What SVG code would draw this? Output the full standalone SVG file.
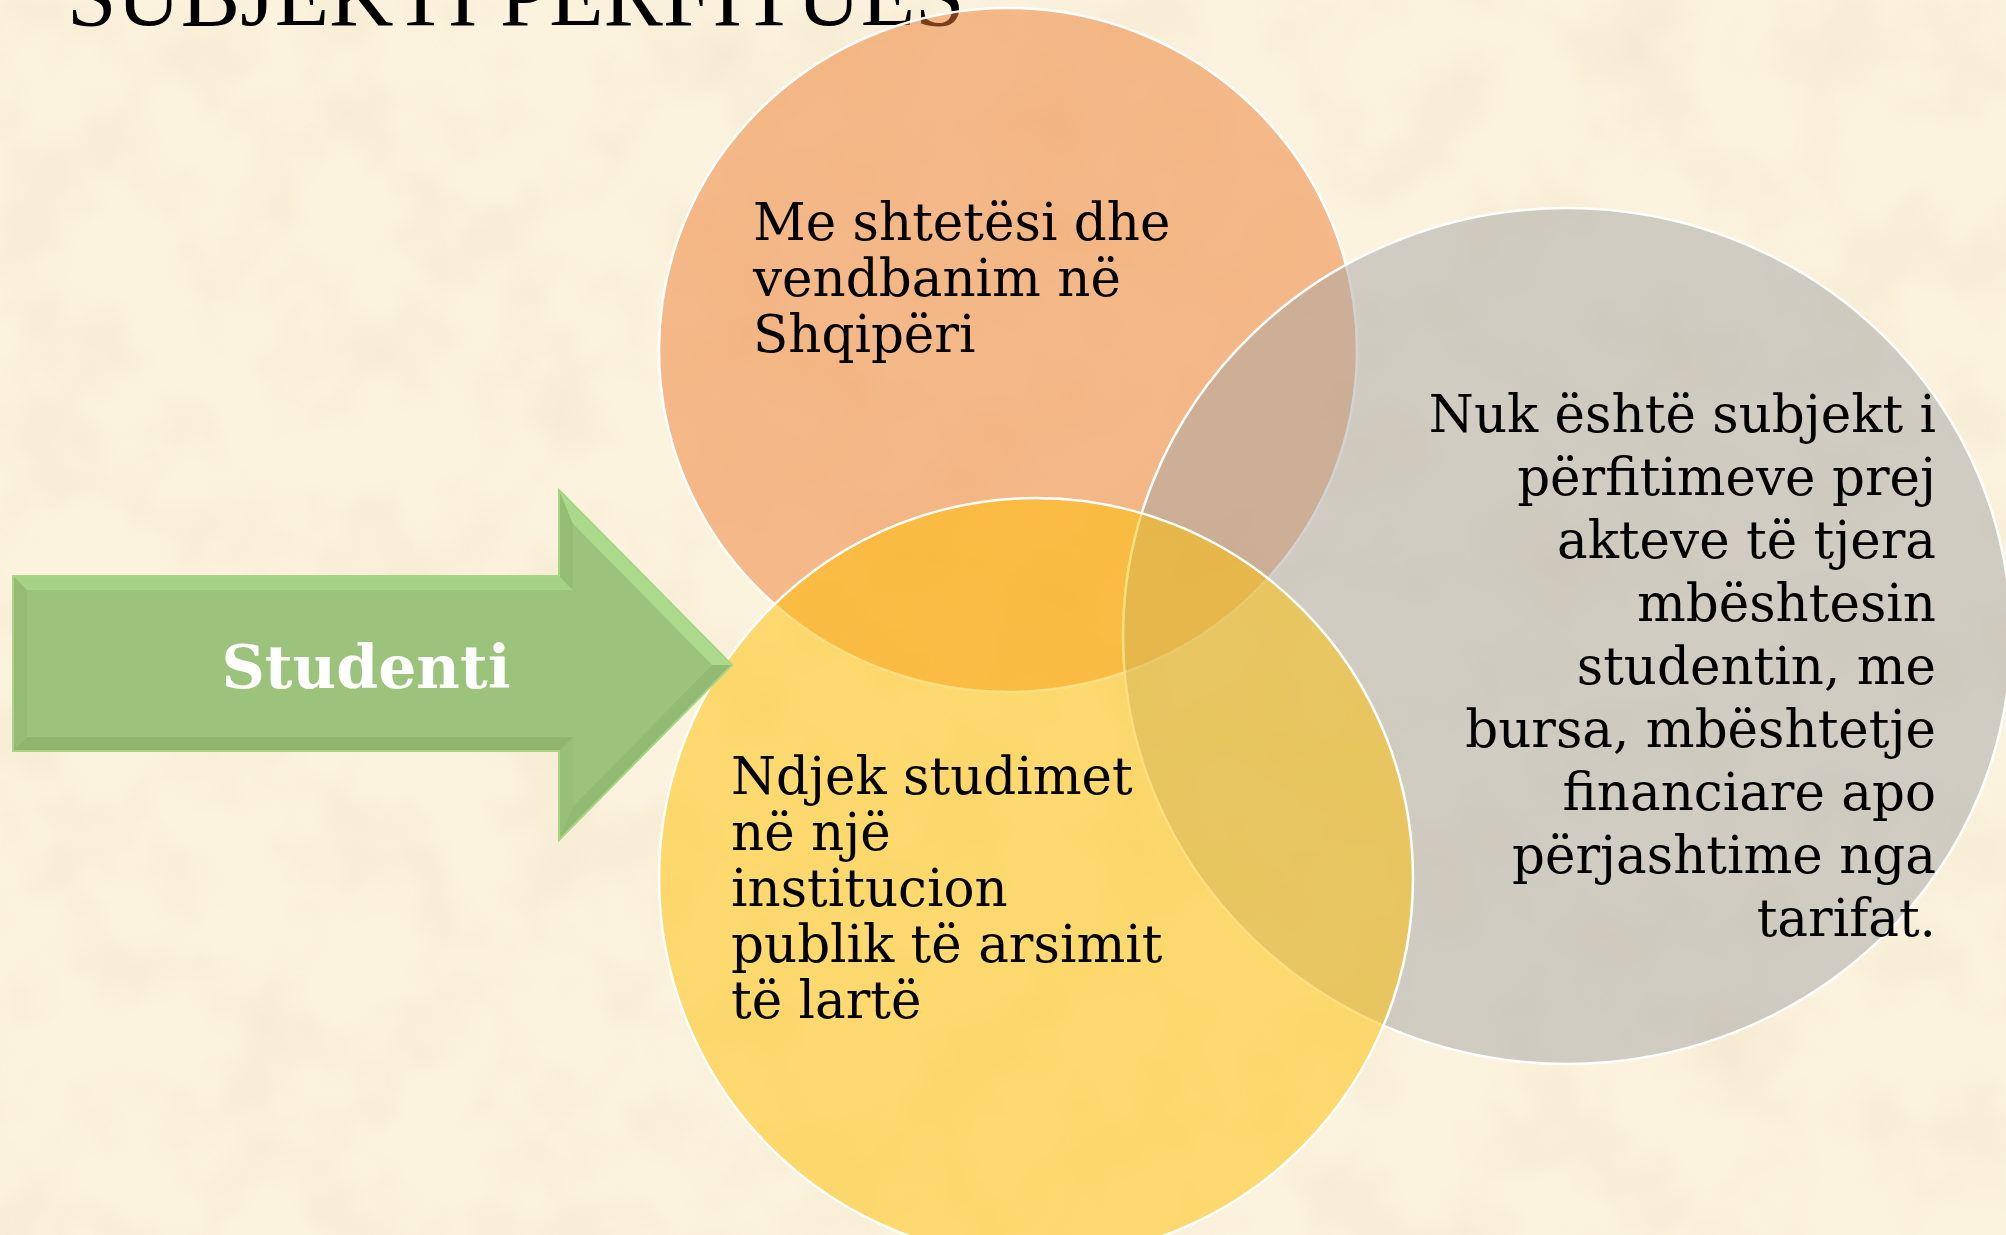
<svg xmlns="http://www.w3.org/2000/svg" width="2006" height="1235" viewBox="0 0 2006 1235">
  <defs>
    <style>
      .title { font-family: "Liberation Serif", "Times New Roman", serif; font-size: 89px; fill: #000; }
      .body { font-family: "DejaVu Serif", "Liberation Serif", serif; font-size: 51.5px; fill: #000; }
      .venn { fill-opacity: 0.5; stroke: #ffffff; stroke-width: 2.5; }
      .label { font-family: "DejaVu Serif", "Liberation Serif", serif; font-size: 60px; font-weight: bold; fill: #ffffff; }
    </style>
    <filter id="tex" x="0" y="0" width="100%" height="100%">
      <feTurbulence type="fractalNoise" baseFrequency="0.010" numOctaves="3" seed="7" result="n"/>
      <feColorMatrix in="n" type="matrix" values="0 0 0 0 0.80  0 0 0 0 0.68  0 0 0 0 0.45  1.6 0 0 0 -0.65"/>
    </filter>
  </defs>

  <g id="background">
    <rect x="0" y="0" width="2006" height="1235" fill="#FCF3DF"/>
    <rect x="0" y="0" width="2006" height="1235" filter="url(#tex)" opacity="0.4"/>
  </g>

  <g id="title">
    <text class="title" x="67" y="25">SUBJEKTI PËRFITUES</text>
  </g>

  <g id="node-shtetesi">
    <ellipse class="venn" cx="1008" cy="350" rx="349" ry="342" fill="#ED7D31"/>
  </g>
  <g id="node-subjekt">
    <ellipse class="venn" cx="1567" cy="636" rx="444" ry="428" fill="#A5A5A5"/>
  </g>
  <g id="node-studimet">
    <ellipse class="venn" cx="1036" cy="878" rx="377" ry="380" fill="#FFC000"/>
  </g>

  <g id="connectors">
    <g id="arrow-studenti">
      <polygon points="13,576 559,576 559,490 732,665 559,840 559,751 13,751" fill="#9BC27A"/>
      <polygon points="13,576 559,576 573,590 27,590" fill="#A6D286"/>
      <polygon points="559,576 559,490 573,524 573,590" fill="#95BC74"/>
      <polygon points="559,490 732,665 712,665 573,524" fill="#ACDA8C"/>
      <polygon points="732,665 559,840 573,806 712,665" fill="#93BA72"/>
      <polygon points="559,840 559,751 573,737 573,806" fill="#98BF77"/>
      <polygon points="559,751 13,751 27,737 573,737" fill="#8FB56F"/>
      <polygon points="13,751 13,576 27,590 27,737" fill="#95BB74"/>
      <polygon points="27,590 573,590 573,524 712,665 573,806 573,737 27,737" fill="#9CC37B"/>
      <polygon points="13,576 559,576 559,490 732,665 559,840 559,751 13,751" fill="none" stroke="#A8D486" stroke-width="2"/>
      <text class="label" x="366" y="688" text-anchor="middle">Studenti</text>
    </g>
  </g>

  <g id="text-shtetesi">
    <text class="body" x="753" y="240">Me shtetësi dhe</text>
    <text class="body" x="753" y="296">vendbanim në</text>
    <text class="body" x="753" y="352">Shqipëri</text>
  </g>

  <g id="text-studimet">
    <text class="body" x="731" y="794">Ndjek studimet</text>
    <text class="body" x="731" y="850">në një</text>
    <text class="body" x="731" y="906">institucion</text>
    <text class="body" x="731" y="962">publik të arsimit</text>
    <text class="body" x="731" y="1018">të lartë</text>
  </g>

  <g id="text-subjekt" text-anchor="end">
    <text class="body" x="1936" y="432">Nuk është subjekt i</text>
    <text class="body" x="1936" y="495">përfitimeve prej</text>
    <text class="body" x="1936" y="558">akteve të tjera</text>
    <text class="body" x="1936" y="621">mbështesin</text>
    <text class="body" x="1936" y="684">studentin, me</text>
    <text class="body" x="1936" y="747">bursa, mbështetje</text>
    <text class="body" x="1936" y="810">financiare apo</text>
    <text class="body" x="1936" y="873">përjashtime nga</text>
    <text class="body" x="1936" y="936">tarifat.</text>
  </g>
</svg>
